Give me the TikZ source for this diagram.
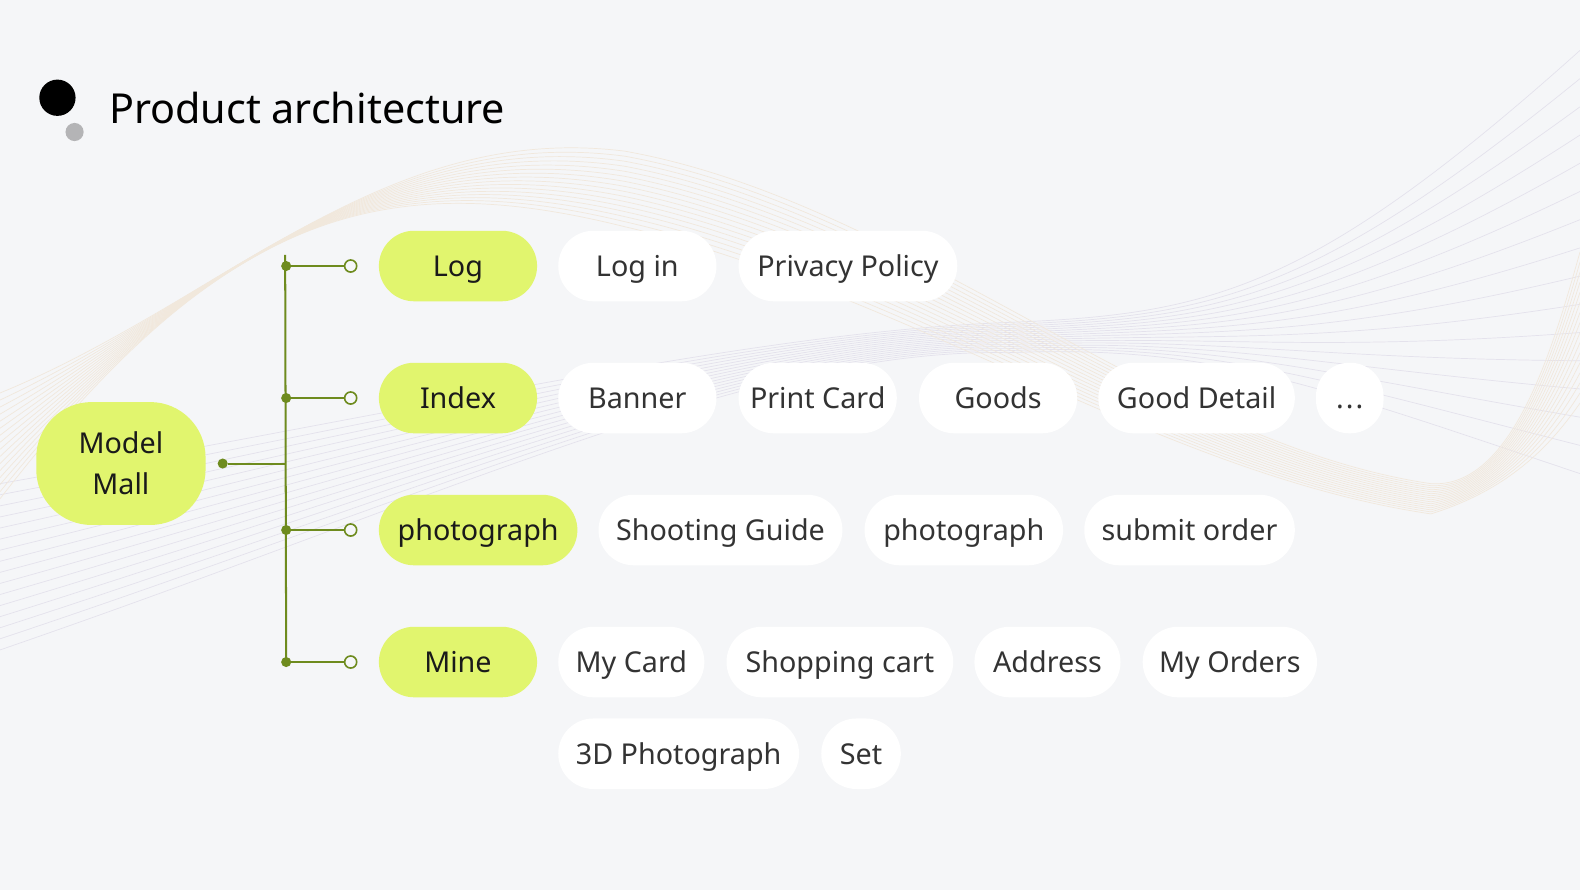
\documentclass[tikz,border=0pt]{standalone}
\usepackage{fontspec}
\setmainfont{Noto Sans}

\definecolor{bg}{HTML}{F5F6F8}
\definecolor{leaf}{HTML}{E1F56E}
\definecolor{olive}{HTML}{6E8B1E}
\definecolor{headtxt}{HTML}{1A1A1A}
\definecolor{itemtxt}{HTML}{333333}
\definecolor{dotgrey}{HTML}{B4B4B6}
\definecolor{wavea}{HTML}{E4E2EC}
\definecolor{waveb}{HTML}{F1E8DC}

\newcommand{\pillfont}{\fontsize{28.5}{41}\selectfont}
\newcommand{\titlefont}{\fontsize{41}{48}\selectfont}

\tikzset{
    head/.style={fill=leaf, rounded corners=35pt, minimum height=70pt, inner sep=0pt, text height=20.5pt, text depth=0pt, text=headtxt, font=\pillfont},
    item/.style={fill=white, rounded corners=35pt, minimum height=70pt, inner sep=0pt, text height=20.5pt, text depth=0pt, text=itemtxt, font=\pillfont},
    jdot/.style={circle, fill=olive, minimum size=10pt, inner sep=0pt},
    odot/.style={circle, draw=olive, fill=bg, line width=1.6pt, minimum size=12pt, inner sep=0pt},
    link/.style={draw=olive, line width=2pt}
}

\begin{document}
\begin{tikzpicture}[x=1pt,y=-1pt]
    \useasboundingbox (0,0) rectangle (1568,883);
    \fill[bg] (0,0) rectangle (1568,883);

    % background waves
    \foreach \i in {0,...,15} {
        \draw[wavea, line width=0.7pt] (0,480+11*\i) .. controls (450,400+6*\i) and (750,330+\i) .. (1000,320+2*\i) .. controls (1200,312+2*\i) and (1300,290+6*\i) .. (1568,50+28*\i);
    }
    \foreach \i in {0,...,15} {
        \draw[waveb, line width=0.7pt] (0,390+7*\i) .. controls (220,300-6*\i) and (380,120+3*\i) .. (620,150+5*\i) .. controls (900,200+6*\i) and (1150,440+2*\i) .. (1420,480+2*\i) .. controls (1500,485) and (1540,350+6*\i) .. (1568,250+10*\i);
    }

    \node[circle, fill=black, minimum size=36pt, inner sep=0pt] (dotbig) at (57,97) {};
    \node[circle, fill=dotgrey, minimum size=18pt, inner sep=0pt] (dotsmall) at (74,131) {};
    \node[anchor=west, font=\titlefont, text=black, inner sep=0pt] (title) at (108,107) {Product architecture};

    \node[head, rounded corners=55pt, minimum width=168pt, minimum height=122pt, text height=, text depth=, align=center] (mall) at (120,460) {Model\\Mall};

    \node[head, minimum width=157pt] (log) at (454.5,264) {Log};
    \node[head, minimum width=157pt] (index) at (454.5,395) {Index};
    \node[head, minimum width=197pt] (photo) at (474.5,526) {photograph};
    \node[head, minimum width=157pt] (mine) at (454.5,657) {Mine};

    \node[item, minimum width=157pt] (log1) at (632.5,264) {Log in};
    \node[item, minimum width=217pt] (log2) at (841.5,264) {Privacy Policy};

    \node[item, minimum width=157pt] (idx1) at (632.5,395) {Banner};
    \node[item, minimum width=157pt] (idx2) at (811.5,395) {Print Card};
    \node[item, minimum width=157pt] (idx3) at (990.5,395) {Goods};
    \node[item, minimum width=195pt] (idx4) at (1187.5,395) {Good Detail};
    \node[item, minimum width=67pt, rounded corners=33pt] (idx5) at (1339.5,395) {.\kern2pt.\kern2pt.};

    \node[item, minimum width=242pt] (pho1) at (715,526) {Shooting Guide};
    \node[item, minimum width=197pt] (pho2) at (956.5,526) {photograph};
    \node[item, minimum width=209pt] (pho3) at (1180.5,526) {submit order};

    \node[item, minimum width=145pt] (min1) at (626.5,657) {My Card};
    \node[item, minimum width=225pt] (min2) at (833.5,657) {Shopping cart};
    \node[item, minimum width=145pt] (min3) at (1039.5,657) {Address};
    \node[item, minimum width=173pt] (min4) at (1220.5,657) {My Orders};
    \node[item, minimum width=239pt] (min5) at (673.5,748) {3D Photograph};
    \node[item, minimum width=79pt] (min6) at (854.5,748) {Set};

    \node[jdot] (mdot) at (221,460) {};
    \coordinate (mj) at (283,460);
    \coordinate (top) at (283,253);
    \node[jdot] (b1) at (284,264) {};
    \node[jdot] (b2) at (284,395) {};
    \node[jdot] (b3) at (284,526) {};
    \node[jdot] (b4) at (284,657) {};
    \node[odot] (o1) at (348,264) {};
    \node[odot] (o2) at (348,395) {};
    \node[odot] (o3) at (348,526) {};
    \node[odot] (o4) at (348,657) {};

    \draw[link] (mdot) -- (mj);
    \draw[link] (top) -- (b4.center);
    \draw[link] (b1) -- (o1);
    \draw[link] (b2) -- (o2);
    \draw[link] (b3) -- (o3);
    \draw[link] (b4) -- (o4);
\end{tikzpicture}
\end{document}
